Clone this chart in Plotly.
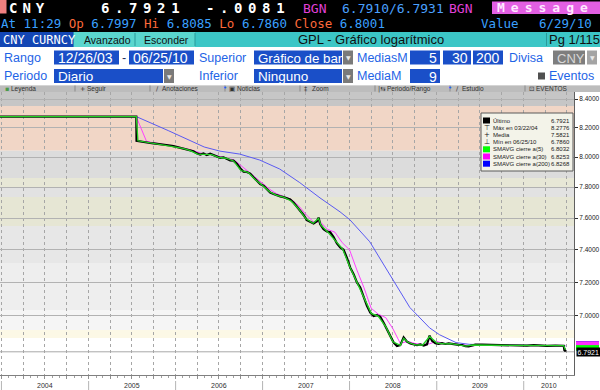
import math
import plotly.graph_objects as go

# ---------------- data ----------------
price_dates = [
    "2003-12-26", "2004-03-22", "2004-09-01", "2005-03-01", "2005-07-20",
    "2005-07-21", "2005-08-05", "2005-08-19", "2005-09-02", "2005-09-16", "2005-09-30", "2005-10-14",
    "2005-10-28", "2005-11-11", "2005-11-25", "2005-12-09", "2005-12-23",
    "2006-01-06", "2006-01-20", "2006-02-03", "2006-02-17", "2006-03-03", "2006-03-17", "2006-03-31",
    "2006-04-14", "2006-04-28", "2006-05-12", "2006-05-26", "2006-06-09", "2006-06-23", "2006-07-07",
    "2006-07-21", "2006-08-04", "2006-08-18", "2006-09-01", "2006-09-15", "2006-09-29", "2006-10-13",
    "2006-10-27", "2006-11-10", "2006-11-24", "2006-12-08", "2006-12-22",
    "2007-01-05", "2007-01-19", "2007-02-02", "2007-02-16", "2007-03-02", "2007-03-16", "2007-03-30",
    "2007-04-13", "2007-04-27", "2007-05-11", "2007-05-25", "2007-06-08", "2007-06-22", "2007-07-06",
    "2007-07-20", "2007-08-03", "2007-08-17", "2007-08-24", "2007-08-31", "2007-09-14", "2007-09-28",
    "2007-10-12", "2007-10-26", "2007-11-09", "2007-11-23", "2007-12-07", "2007-12-21",
    "2008-01-04", "2008-01-18", "2008-02-01", "2008-02-15", "2008-02-29", "2008-03-14", "2008-03-28",
    "2008-04-11", "2008-04-25", "2008-05-09", "2008-05-23", "2008-06-06", "2008-06-20", "2008-07-04",
    "2008-07-18", "2008-08-01", "2008-08-15", "2008-08-29", "2008-09-12", "2008-09-26", "2008-10-10",
    "2008-10-24", "2008-11-07", "2008-11-21", "2008-12-02", "2008-12-12", "2008-12-26",
    "2009-01-09", "2009-01-23", "2009-02-06", "2009-02-20", "2009-03-06", "2009-03-20", "2009-04-03",
    "2009-04-17", "2009-05-01", "2009-05-15", "2009-05-29", "2009-06-12", "2009-07-10", "2009-08-07",
    "2009-09-11", "2009-10-09", "2009-11-13", "2009-12-11",
    "2010-01-15", "2010-02-12", "2010-03-12", "2010-04-09", "2010-05-14", "2010-06-11", "2010-06-18",
    "2010-06-21", "2010-06-22", "2010-06-23", "2010-06-24", "2010-06-25",
]
price_close = [
    8.2770, 8.2776, 8.2766, 8.2765, 8.2765,
    8.1100, 8.1050, 8.1030, 8.1000, 8.0950, 8.0920, 8.0900,
    8.0860, 8.0830, 8.0840, 8.0780, 8.0740,
    8.0680, 8.0650, 8.0580, 8.0500, 8.0450, 8.0390, 8.0250,
    8.0170, 8.0250, 8.0130, 8.0220, 8.0120, 8.0050, 7.9950,
    7.9980, 7.9900, 7.9780, 7.9760, 7.9550, 7.9250, 7.9020,
    7.9000, 7.8900, 7.8650, 7.8400, 7.8200,
    7.8100, 7.7900, 7.7650, 7.7550, 7.7450, 7.7400, 7.7350,
    7.7300, 7.7200, 7.7000, 7.6750, 7.6500, 7.6200, 7.5870,
    7.5750, 7.5650, 7.5800, 7.6030, 7.5600, 7.5300, 7.5150,
    7.5100, 7.4800, 7.4400, 7.4150, 7.4000, 7.3500,
    7.2900, 7.2500, 7.2000, 7.1700, 7.1100, 7.0600, 7.0200,
    7.0000, 7.0050, 6.9950, 6.9600, 6.9200, 6.8750, 6.8450,
    6.8250, 6.8300, 6.8750, 6.8500, 6.8400, 6.8350, 6.8300,
    6.8350, 6.8280, 6.8350, 6.8850, 6.8550, 6.8420,
    6.8380, 6.8420, 6.8370, 6.8400, 6.8380, 6.8330, 6.8320,
    6.8310, 6.8240, 6.8230, 6.8280, 6.8330, 6.8330, 6.8320,
    6.8300, 6.8270, 6.8270, 6.8280,
    6.8270, 6.8300, 6.8260, 6.8260, 6.8280, 6.8260, 6.8270,
    6.7976, 6.8090, 6.8080, 6.8001, 6.7921,
]

sma5_dates = [
    "2003-12-26", "2005-07-20", "2005-07-27", "2005-09-01", "2005-10-03", "2005-11-01", "2005-12-01",
    "2006-01-03", "2006-02-01", "2006-03-01", "2006-04-03", "2006-05-02", "2006-06-01", "2006-07-03",
    "2006-08-01", "2006-09-01", "2006-10-02", "2006-11-01", "2006-12-01", "2007-01-02", "2007-02-01",
    "2007-03-01", "2007-04-02", "2007-05-01", "2007-06-01", "2007-07-02", "2007-08-01", "2007-08-24",
    "2007-09-03", "2007-10-01", "2007-11-01", "2007-12-03", "2008-01-02", "2008-02-01", "2008-03-03",
    "2008-04-01", "2008-05-01", "2008-06-02", "2008-07-01", "2008-08-01", "2008-08-15", "2008-09-01",
    "2008-10-01", "2008-11-03", "2008-12-02", "2009-01-02", "2009-02-02", "2009-03-02", "2009-04-01",
    "2009-05-01", "2009-06-01", "2009-09-01", "2009-12-01", "2010-03-01", "2010-06-18", "2010-06-25",
]
sma5_vals = [
    8.2770, 8.2766, 8.1100, 8.1000, 8.0910, 8.0850, 8.0790,
    8.0690, 8.0590, 8.0450, 8.0200, 8.0180, 8.0160, 7.9970,
    7.9920, 7.9740, 7.9100, 7.8980, 7.8500, 7.8100, 7.7680,
    7.7460, 7.7330, 7.7100, 7.6600, 7.5950, 7.5670, 7.5980,
    7.5550, 7.5120, 7.4600, 7.4050, 7.2950, 7.2000, 7.1000,
    7.0150, 6.9980, 6.9350, 6.8500, 6.8290, 6.8700, 6.8480,
    6.8320, 6.8310, 6.8800, 6.8420, 6.8380, 6.8390, 6.8320,
    6.8250, 6.8310, 6.8310, 6.8280, 6.8270, 6.8270, 6.8032,
]

sma30_dates = [
    "2003-12-26", "2005-07-20", "2005-07-21", "2005-09-01", "2005-10-01", "2005-11-01", "2005-12-01",
    "2006-01-01", "2006-02-01", "2006-03-01", "2006-04-01", "2006-05-01", "2006-06-01", "2006-07-01",
    "2006-08-01", "2006-09-01", "2006-10-01", "2006-11-01", "2006-12-01", "2007-01-01", "2007-02-01",
    "2007-03-01", "2007-04-01", "2007-05-01", "2007-06-01", "2007-07-01", "2007-08-01", "2007-09-01",
    "2007-10-01", "2007-11-01", "2007-12-01", "2008-01-01", "2008-02-01", "2008-03-01", "2008-04-01",
    "2008-05-01", "2008-06-01", "2008-07-01", "2008-08-01", "2008-09-01", "2008-10-01", "2008-11-01",
    "2008-12-01", "2009-01-01", "2009-02-01", "2009-03-01", "2009-04-01", "2009-05-01", "2009-06-01",
    "2009-07-01", "2010-01-01", "2010-06-18", "2010-06-25",
]
sma30_vals = [
    8.2770, 8.2767, 8.2710, 8.1060, 8.0970, 8.0880, 8.0810,
    8.0730, 8.0620, 8.0500, 8.0360, 8.0200, 8.0170, 8.0050,
    7.9950, 7.9820, 7.9450, 7.9050, 7.8700, 7.8280, 7.7850,
    7.7570, 7.7400, 7.7200, 7.6800, 7.6250, 7.5780, 7.5750,
    7.5280, 7.5100, 7.4450, 7.4000, 7.2750, 7.1700, 7.0450,
    7.0100, 6.9900, 6.9250, 6.8400, 6.8520, 6.8400, 6.8340,
    6.8380, 6.8520, 6.8380, 6.8390, 6.8340, 6.8290, 6.8260,
    6.8320, 6.8280, 6.8270, 6.8253,
]

sma200_dates = [
    "2003-12-26", "2005-07-20", "2005-07-21", "2005-12-01", "2006-05-01", "2006-07-06", "2006-09-27",
    "2006-12-20", "2007-03-14", "2007-06-06", "2007-08-30", "2007-11-22", "2008-01-02", "2008-03-26",
    "2008-06-18", "2008-09-10", "2008-12-02", "2009-01-13", "2009-03-23", "2009-05-17", "2009-10-01",
    "2010-03-01", "2010-06-25",
]
sma200_vals = [
    8.2770, 8.2767, 8.2760, 8.1800, 8.0680, 8.0400, 8.0200,
    7.9800, 7.9200, 7.8300, 7.7300, 7.6400, 7.5900, 7.4500,
    7.2500, 7.0500, 6.9300, 6.8900, 6.8450, 6.8350, 6.8310,
    6.8280, 6.8268,
]

ytick_vals = [7.0, 7.2, 7.4, 7.6, 7.8, 8.0, 8.2, 8.4]
year_labels = ["2004", "2005", "2006", "2007", "2008", "2009", "2010"]
year_label_dates = ["2004-07-01", "2005-07-01", "2006-07-01", "2007-07-01",
                    "2008-07-01", "2009-07-01", "2010-04-16"]
year_starts = ["2004-01-01", "2005-01-01", "2006-01-01", "2007-01-01",
               "2008-01-01", "2009-01-01", "2010-01-01"]

legend_names = ["Último", "Máx en 03/22/04", "Media", "Mín en 06/25/10",
                "SMAVG cierre a(5)", "SMAVG cierre a(30)", "SMAVG cierre a(200)"]
legend_values = ["6.7921", "8.2776", "7.5821", "6.7860", "6.8032", "6.8253", "6.8268"]

quote_main = ["CNY", "6.7921", "-.0081"]
quote_bidask = ["BGN", "6.7910/6.7931", "BGN"]
quote_line2 = [("At 11:29", "b"), ("Op", "o"), ("6.7997", "b"), ("Hi", "o"), ("6.8085", "b"),
               ("Lo", "o"), ("6.7860", "b"), ("Close", "o"), ("6.8001", "b")]

# ---------------- layout helpers ----------------
W, H = 600, 390
PL, PR, PT, PB = 0, 574, 92, 375
MONO = "DejaVu Sans Mono"
SANS = "Liberation Sans"
LBL = "#1e64e6"
BOX = "#1a4fc8"

def px(x):
    return (x - PL) / (PR - PL)

def py(y):
    return (PB - y) / (PB - PT)

shapes = []
annotations = []

def rect(x0, y0, x1, y1, fill, line=None, lw=0, layer="above"):
    shapes.append(dict(type="rect", xref="paper", yref="paper",
                       x0=px(x0), x1=px(x1), y0=py(y0), y1=py(y1),
                       fillcolor=fill, line=dict(width=lw, color=line or fill), layer=layer))

def vline(x, y0, y1, color, w=1):
    shapes.append(dict(type="line", xref="paper", yref="paper", x0=px(x), x1=px(x),
                       y0=py(y0), y1=py(y1), line=dict(color=color, width=w), layer="above"))

def text(x, y, s, size=12, color="#000", family=SANS, anchor="left", weight="normal", bg=None):
    a = dict(x=px(x), y=py(y), xref="paper", yref="paper", text=s, showarrow=False,
             xanchor=anchor, yanchor="middle", borderpad=0,
             font=dict(family=family, size=size, color=color, weight=weight))
    if bg:
        a["bgcolor"] = bg
    annotations.append(a)

# ---------------- header ----------------
rect(0, 0, 600, 32, "#000000")
rect(0, 0, 6.5, 13.5, "#f08080")
text(8, 8, '<span style="letter-spacing:5px">%s</span>' % quote_main[0], 14, "#ffffff", MONO, weight="bold")
text(100, 8, '<span style="letter-spacing:5.6px">%s</span>' % quote_main[1], 14, "#ffffff", MONO, weight="bold")
text(205, 8, '<span style="letter-spacing:5.6px">%s</span>' % quote_main[2], 14, "#ffffff", MONO, weight="bold")
text(302, 8.5, quote_bidask[0], 13, "#e040d8", MONO)
text(341, 8.5, quote_bidask[1], 13, "#4aa0ff", MONO)
text(448, 8.5, quote_bidask[2], 13, "#e040d8", MONO)
rect(492, 1.5, 600, 14, "#e35fe3")
text(496, 8, '<span style="letter-spacing:6px">Message</span>', 13, "#ffe8ff", MONO, weight="bold")

cols = {"b": "#3aa0ff", "o": "#ff6a3a"}
line2 = " ".join('<span style="color:%s">%s</span>' % (cols[c], s) for s, c in quote_line2)
text(0, 23.5, line2, 12.5, "#3aa0ff", MONO)
text(480, 23.5, "Value", 12.5, "#3aa0ff", MONO)
text(538, 23.5, "6/29/10", 12.5, "#3aa0ff", MONO)

# title bar
rect(0, 32, 600, 47, "#3cc6c6")
rect(74, 32, 195, 47, "#5ad6ce")
rect(0, 32, 73.5, 47, "#1346b4")
vline(135, 33, 46, "#2a9a9a")
vline(195, 33, 46, "#2a9a9a")
vline(546.5, 33, 46, "#2a9a9a")
text(1.5, 39.5, "CNY CURNCY", 12, "#ffffff", MONO)
text(83, 39.5, "Avanzado", 10.5, "#101010")
text(143, 39.5, "Esconder", 10.5, "#101010")
text(297, 39.5, "GPL - Gráfico logarítmico", 13, "#101010")
text(548, 39.5, "Pg 1/115", 13, "#101010")

# parameter rows
def field(x0, x1, y0, y1, s, align="left", fill=BOX, color="#ffffff", size=14):
    rect(x0, y0, x1, y1, fill)
    if align == "left":
        text(x0 + 2.5, (y0 + y1) / 2 + 0.5, s, size, color)
    else:
        text(x1 - 2, (y0 + y1) / 2 + 0.5, s, size, color, anchor="right")

def drop(x0, x1, y0, y1, fill="#7a7a7a"):
    rect(x0, y0, x1, y1, fill)
    text((x0 + x1) / 2, (y0 + y1) / 2, "▼", 6, "#e8e8e8", "DejaVu Sans", anchor="center")

r4a, r4b = 50.5, 64.5
r5a, r5b = 69, 83
text(3, 57.5, "Rango", 12.5, LBL)
field(54, 119, r4a, r4b, "12/26/03")
text(121, 57.5, "-", 12.5, "#203060")
field(129, 194, r4a, r4b, "06/25/10")
text(198, 57.5, "Superior", 12.5, LBL)
field(254, 342, r4a, r4b, "Gráfico de bar", size=13.3)
drop(343, 353, r4a, r4b)
text(356, 57.5, "MediasM", 12.5, LBL)
field(410, 440, r4a, r4b, "5", align="right")
field(443, 471, r4a, r4b, "30", align="right")
field(473, 503, r4a, r4b, "200", align="right")
text(508, 57.5, "Divisa", 12.5, LBL)
field(553, 585, r4a, r4b, "CNY", fill="#7e7e7e", color="#d8d8d8", size=13)
drop(587, 597, r4a, r4b, "#a4a4a4")

text(3, 76, "Periodo", 12.5, LBL)
field(54, 163, r5a, r5b, "Diario", size=13.5)
drop(164, 174, r5a, r5b)
text(198, 76, "Inferior", 12.5, LBL)
field(254, 342, r5a, r5b, "Ninguno", size=13.5)
drop(343, 353, r5a, r5b)
text(356, 76, "MediaM", 12.5, LBL)
field(410, 440, r5a, r5b, "9", align="right")
rect(538, 72.5, 545, 79.5, "#505050")
text(548, 76, "Eventos", 12.5, LBL)

# toolbar
rect(0, 85, 600, 92, "#bcbcbc")
rect(0, 85, 600, 86, "#d4d4d4")
for sx in [75, 150, 225, 300, 375, 450, 525]:
    vline(sx, 85.5, 91.5, "#8a8a8a")
tool = [(4, "▪", "#4a9a4a"), (10, "Leyenda", None), (79, "+", None), (86, "Seguir", None),
        (155, "/", None), (161, "Anotaciones", None), (228, "▣", None), (236, "Noticias", None),
        (303, "‡", None), (311, "Zoom", None), (377, "|⇆", None), (386, "Periodo/Rango", None),
        (455, "/", None), (461, "Estudio", None), (528, "⊡", None), (535, "EVENTOS", None)]
for tx, ts, tc in tool:
    text(tx, 88.6, ts, 6.5, tc or "#303030", "DejaVu Sans" if len(ts) <= 2 else SANS)
text(222, 88.4, "•", 7, "#2060ff", "DejaVu Sans")
text(447, 88.4, "•", 7, "#2060ff", "DejaVu Sans")

# ---------------- chart background bands (price levels) ----------------
band_edges = [8.4496, 8.351, 8.043, 7.860, 7.801, 7.736, 7.550, 7.319, 7.035, 6.918, 6.872, 6.661]
band_colors = ["#c6c6c6", "#f1d6c6", "#dcdcdc", "#e7e7d6", "#e2e2e2", "#e6e6d4",
               "#e7e7e7", "#eeeeee", "#f5f5f5", "#fcf8e6", "#ffffff"]
for i, c in enumerate(band_colors):
    shapes.append(dict(type="rect", xref="paper", yref="y", x0=0, x1=1,
                       y0=band_edges[i + 1], y1=band_edges[i],
                       fillcolor=c, line=dict(width=0), layer="below"))

# last price line
shapes.append(dict(type="line", xref="paper", yref="y", x0=0, x1=1,
                   y0=price_close[-1], y1=price_close[-1],
                   line=dict(color="#a8a8a8", width=1), layer="between"))

# year separators below the axis + year labels
for d in year_starts:
    shapes.append(dict(type="line", xref="x", yref="paper", x0=d, x1=d,
                       y0=py(381), y1=py(390), line=dict(color="#b4b4b4", width=1)))
for d, lab in zip(year_label_dates, year_labels):
    annotations.append(dict(x=d, y=py(385.5), xref="x", yref="paper", text=lab, showarrow=False,
                            xanchor="center", yanchor="middle",
                            font=dict(family=SANS, size=7, color="#303030")))

# ---------------- in-chart legend box ----------------
rect(481, 113, 573, 171, "#f3f3e9", "#5a5a5a", 1)
row_y = [120.5, 127.7, 134.9, 142.1, 149.3, 156.5, 163.7]
sw = [("sq", "#000000"), ("⊤", None), ("+", None), ("⊥", None),
      ("sq", "#00ff00"), ("sq", "#ff00ff"), ("sq", "#0000ff")]
for (kind, col), yy, nm, val in zip(sw, row_y, legend_names, legend_values):
    if kind == "sq":
        rect(483, yy - 3, 490, yy + 3, col)
    else:
        text(486.5, yy, kind, 7, "#202020", "DejaVu Sans", anchor="center")
    text(492, yy, nm, 6, "#202020")
    text(571, yy, val, 6, "#202020", anchor="right")

# ---------------- right-edge value tags ----------------
# coloured tags of the moving averages peek out from under the last-price tag
for v, bg in [(sma200_vals[-1], "#0000ff"), (sma30_vals[-1], "#ff30ff"), (sma5_vals[-1], "#00ff00")]:
    shapes.append(dict(type="rect", xref="paper", yref="y", x0=px(576), x1=px(599),
                       y0=v * 0.9993, y1=v * 1.0040, fillcolor=bg, line=dict(width=0)))
annotations.append(dict(x=px(576), y=math.log10(price_close[-1]), xref="paper", yref="y",
                        text="%.4f" % price_close[-1], showarrow=False, xanchor="left",
                        yanchor="middle", bgcolor="#000000", borderpad=0.5,
                        font=dict(family=SANS, size=7, color="#ffffff")))

# ---------------- traces ----------------
fig = go.Figure()
fig.add_trace(go.Scatter(x=sma200_dates, y=sma200_vals, mode="lines",
                         line=dict(color="#5a5af2", width=1), hoverinfo="skip"))
fig.add_trace(go.Scatter(x=sma30_dates, y=sma30_vals, mode="lines",
                         line=dict(color="#ff40ff", width=1), hoverinfo="skip"))
fig.add_trace(go.Scatter(x=price_dates, y=price_close, mode="lines",
                         line=dict(color="#000000", width=2.2), hoverinfo="skip"))
fig.add_trace(go.Scatter(x=sma5_dates, y=sma5_vals, mode="lines",
                         line=dict(color="#22d022", width=1.3), hoverinfo="skip"))

quarters = []
for yr in range(2004, 2011):
    for m in (1, 4, 7):
        quarters.append("%d-%02d-01" % (yr, m))
    if yr < 2010:
        quarters.append("%d-10-01" % yr)

fig.update_layout(
    template="none",
    width=W, height=H,
    margin=dict(l=PL, r=W - PR, t=PT, b=H - PB),
    paper_bgcolor="#ffffff", plot_bgcolor="#ffffff",
    showlegend=False,
    xaxis=dict(type="date", range=["2003-12-26", "2010-07-31"],
               tickmode="array", tickvals=quarters, showticklabels=False,
               ticks="outside", ticklen=3, tickcolor="#909090",
               showgrid=True, gridcolor="#a6a6a6", griddash="dot", gridwidth=1,
               showline=True, linecolor="#808080", linewidth=1, zeroline=False,
               minor=dict(ticks="outside", ticklen=2, tickcolor="#a0a0a0",
                          dtick="M1", tick0="2004-01-01", showgrid=False)),
    yaxis=dict(type="log", range=[math.log10(6.661), math.log10(8.4496)], side="right",
               tickmode="array", tickvals=ytick_vals, ticktext=["%.4f" % v for v in ytick_vals],
               ticks="outside", ticklen=3, tickcolor="#303030",
               tickfont=dict(family=SANS, size=6.5, color="#202020"),
               showgrid=True, gridcolor="#b2b2b2", gridwidth=1,
               showline=True, linecolor="#606060", linewidth=1, mirror=True, zeroline=False),
    shapes=shapes,
    annotations=annotations,
)

fig.write_html("out.html")
